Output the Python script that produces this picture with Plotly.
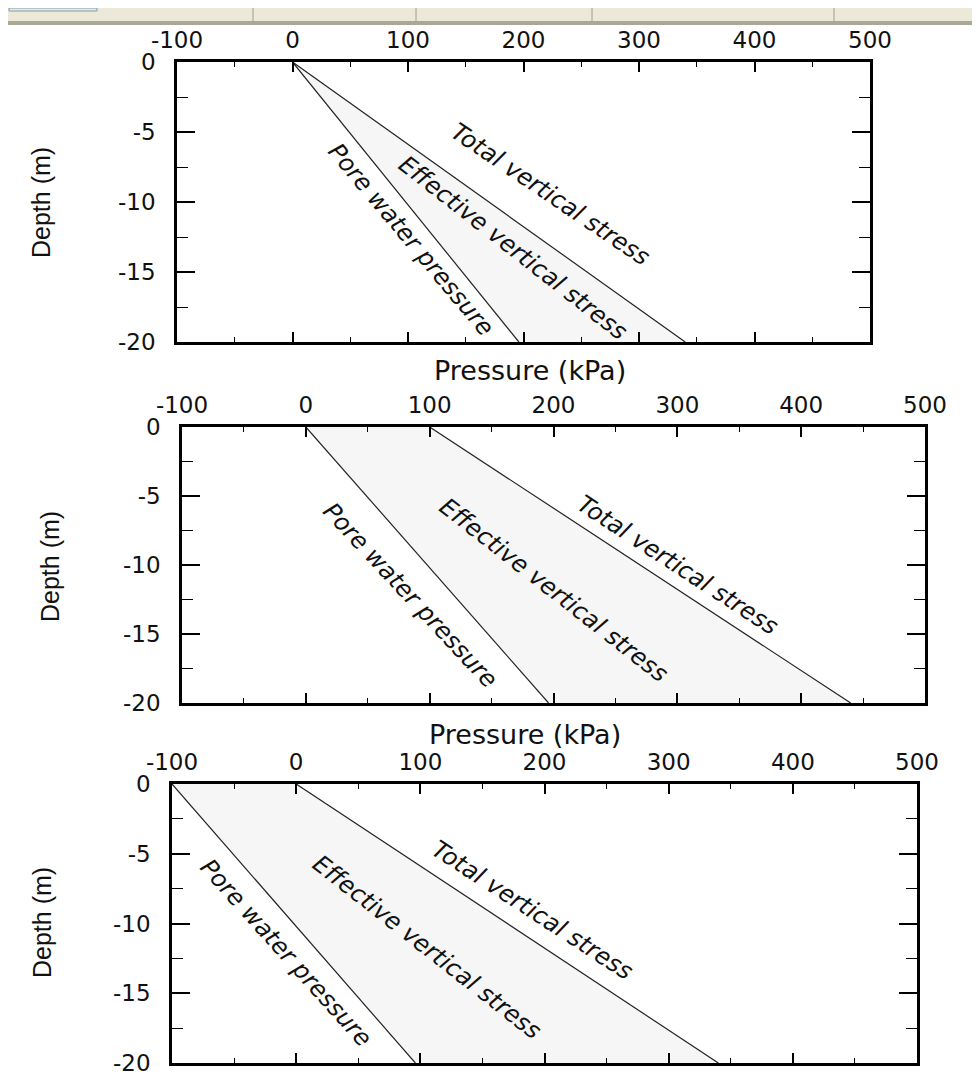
import plotly.graph_objects as go

# ---- data ----
depth = [0, -20]                       # m
total_1 = [0, 340]                     # kPa, panel 1
pore_1 = [0, 196]
total_2 = [100, 440]                   # panel 2 (surcharge at surface)
pore_2 = [0, 196]
total_3 = [0, 340]                     # panel 3 (suction)
pore_3 = [-100, 96]

x_ticks = [-100, 0, 100, 200, 300, 400, 500]
x_tick_text = ["-100", "0", "100", "200", "300", "400", "500"]
y_ticks = [0, -5, -10, -15, -20]
y_tick_text = ["0", "-5", "-10", "-15", "-20"]

label_total = "Total vertical stress"
label_eff = "Effective vertical stress"
label_pore = "Pore water pressure"
x_title = "Pressure (kPa)"
y_title = "Depth (m)"

# page is 980x1081; the page body adds an 8px offset, so the figure is 972x1073
OFF = 8
W, H = 980 - OFF, 1081 - OFF

def fx(px):
    return (px - OFF) / W

def fy(py):
    return 1 - (py - OFF) / H

panels = [
    # (left, right, top, bottom) page-pixel boxes
    dict(box=(177, 870, 62, 342), total=total_1, pore=pore_1,
         ann=[(223, -9.4, 34, label_total), (191, -13.3, 38, label_eff), (103, -12.7, 50, label_pore)],
         xlab=(530, 370), ylab=(41, 203)),
    dict(box=(182, 925, 427, 703), total=total_2, pore=pore_2,
         ann=[(300, -10.0, 33, label_total), (200, -11.8, 38, label_eff), (84, -12.2, 47, label_pore)],
         xlab=(525, 734), ylab=(50, 567)),
    dict(box=(172, 917, 784, 1063), total=total_3, pore=pore_3,
         ann=[(190, -9.0, 33, label_total), (105, -11.7, 38, label_eff), (-8, -12.1, 48, label_pore)],
         xlab=None, ylab=(42, 923)),
]

fig = go.Figure()
tick_font = dict(family="DejaVu Sans", size=23, color="#111")
ann_font = dict(family="DejaVu Sans", size=24, color="#111", style="italic")

annotations = []
for i, p in enumerate(panels):
    n = "" if i == 0 else str(i + 1)
    xa, ya = "x" + n, "y" + n
    l, r, t, b = p["box"]
    # shaded band between pore pressure and total stress
    fig.add_trace(go.Scatter(
        x=p["pore"] + p["total"][::-1], y=depth + depth[::-1],
        fill="toself", fillcolor="#F6F6F6", line=dict(width=0),
        mode="lines", hoverinfo="skip", showlegend=False, xaxis=xa, yaxis=ya))
    for xs in (p["pore"], p["total"]):
        fig.add_trace(go.Scatter(x=xs, y=depth, mode="lines",
                                 line=dict(color="#222", width=1.2),
                                 showlegend=False, xaxis=xa, yaxis=ya))
    fig.layout["xaxis" + n] = dict(
        domain=[fx(l), fx(r)], anchor=ya, side="top", range=[-100, 500],
        tickvals=x_ticks, ticktext=x_tick_text, ticks="inside", ticklen=10,
        tickwidth=1.5, tickcolor="black", mirror="ticks", showline=True,
        linecolor="black", linewidth=2.5, showgrid=False, zeroline=False,
        tickfont=tick_font, ticklabelstandoff=2, automargin=False,
        minor=dict(ticks="inside", ticklen=5, dtick=50, tickcolor="black", tickwidth=1.2, showgrid=False),
    )
    fig.layout["yaxis" + n] = dict(
        domain=[fy(b), fy(t)], anchor=xa, range=[-20, 0],
        tickvals=y_ticks, ticktext=y_tick_text, ticks="inside", ticklen=18,
        tickwidth=1.5, tickcolor="black", mirror="ticks", showline=True,
        linecolor="black", linewidth=2.5, showgrid=False, zeroline=False,
        tickfont=tick_font, ticklabelstandoff=14, automargin=False,
        minor=dict(ticks="inside", ticklen=11, dtick=2.5, tickcolor="black", tickwidth=1.2, showgrid=False),
    )
    for (ax_x, ax_y, ang, txt) in p["ann"]:
        annotations.append(dict(x=ax_x, y=ax_y, xref=xa, yref=ya, text=txt,
                                xanchor="center", yanchor="middle",
                                textangle=ang, showarrow=False, font=ann_font))
    if p["xlab"]:
        cx, cy = p["xlab"]
        annotations.append(dict(x=fx(cx), y=fy(cy), xref="paper", yref="paper",
                                xanchor="center", yanchor="middle",
                                text=x_title, showarrow=False,
                                font=dict(family="DejaVu Sans", size=27, color="#111")))
    cx, cy = p["ylab"]
    annotations.append(dict(x=fx(cx), y=fy(cy), xref="paper", yref="paper",
                            xanchor="center", yanchor="middle",
                            text=y_title, textangle=-90, showarrow=False,
                            font=dict(family="Liberation Sans", size=25, color="#111")))

def px_rect(x0, y0, x1, y1, color, line=None):
    return dict(type="rect", xref="paper", yref="paper", layer="below",
                x0=fx(x0), x1=fx(x1), y0=fy(y1), y1=fy(y0),
                fillcolor=color, line=dict(width=0) if line is None else line)

shapes = [
    px_rect(8, 8, 980, 1081, "white"),
    px_rect(8, 8, 980, 21, "#ECE9D8"),
    px_rect(8, 21, 980, 25, "#A9A796"),
    px_rect(9, 8, 97, 11, "#ECE9D8", line=dict(color="#7F9DB9", width=1)),
]
for sx in (253, 416, 592, 834):
    shapes.append(dict(type="line", xref="paper", yref="paper", layer="below",
                       x0=fx(sx), x1=fx(sx), y0=fy(21), y1=fy(8),
                       line=dict(color="#9E9C8C", width=1)))

fig.update_layout(
    width=W, height=H, margin=dict(l=0, r=0, t=0, b=0, pad=0, autoexpand=False),
    paper_bgcolor="#E2C27E", plot_bgcolor="white",
    annotations=annotations, shapes=shapes, showlegend=False,
)
fig.write_html("out.html")
